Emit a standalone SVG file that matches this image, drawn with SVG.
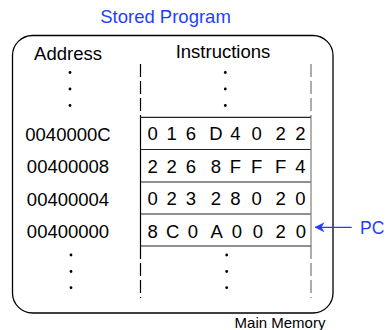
<svg xmlns="http://www.w3.org/2000/svg" width="387" height="330" viewBox="0 0 387 330">
<defs>
<style>
text{font-family:"Liberation Sans",Arial,sans-serif;fill:#000}
.t{font-size:18.5px}
.b{fill:#1f3fff}
.m{text-anchor:middle}
.dot{fill:#000}
.dl{stroke:#000;stroke-width:1.2;stroke-dasharray:13 4;fill:none}
.dr{stroke:#777;stroke-width:1.2;stroke-dasharray:13 4;fill:none}
.row{stroke:#222;stroke-width:1.2;fill:none}
</style>
<marker id="ah" viewBox="0 0 10 10" refX="9.5" refY="5" markerWidth="10" markerHeight="10" markerUnits="userSpaceOnUse" orient="auto">
<path d="M10,5 L0,0 L3,5 L0,10 Z" fill="#1f3fff"/>
</marker>
</defs>
<rect width="387" height="330" fill="#fff"/>
<text class="t b m" x="165.5" y="22.5">Stored Program</text>
<g id="memory">
<rect x="12.5" y="35.5" width="320.5" height="277.5" rx="20" ry="20" fill="none" stroke="#000" stroke-width="1.3"/>
<text x="280" y="328" class="m" style="font-size:15px">Main Memory</text>
</g>
<g id="headers">
<text class="t m" x="68" y="60">Address</text>
<text class="t m" x="223" y="58.3">Instructions</text>
</g>
<g id="dots">
<circle class="dot" cx="70" cy="72.5" r="1.4"/>
<circle class="dot" cx="70" cy="89" r="1.4"/>
<circle class="dot" cx="70" cy="105.5" r="1.4"/>
<circle class="dot" cx="225.3" cy="72.5" r="1.4"/>
<circle class="dot" cx="225.3" cy="89" r="1.4"/>
<circle class="dot" cx="225.3" cy="105.5" r="1.4"/>
<circle class="dot" cx="71" cy="255" r="1.4"/>
<circle class="dot" cx="71" cy="271.5" r="1.4"/>
<circle class="dot" cx="71" cy="287.7" r="1.4"/>
<circle class="dot" cx="226.7" cy="255" r="1.4"/>
<circle class="dot" cx="226.7" cy="271.5" r="1.4"/>
<circle class="dot" cx="226.7" cy="287.7" r="1.4"/>
</g>
<g id="dashes">
<line class="dl" x1="140.5" y1="64" x2="140.5" y2="117.3"/>
<line class="dr" x1="311" y1="64" x2="311" y2="117.3"/>
<line class="dl" x1="140.5" y1="246" x2="140.5" y2="298"/>
<line class="dr" x1="311" y1="246" x2="311" y2="298"/>
</g>
<g id="words">
<line class="row" x1="140.5" y1="117.3" x2="311" y2="117.3"/>
<line class="row" x1="140.5" y1="149.5" x2="311" y2="149.5"/>
<line class="row" x1="140.5" y1="182" x2="311" y2="182"/>
<line class="row" x1="140.5" y1="214" x2="311" y2="214"/>
<line class="row" x1="140.5" y1="246" x2="311" y2="246"/>
<line x1="140.5" y1="117.3" x2="140.5" y2="246" stroke="#000" stroke-width="1.2"/>
<line x1="311" y1="117.3" x2="311" y2="246" stroke="#888" stroke-width="1.3"/>
</g>
<g id="row-0040000C">
<text class="t m" x="68" y="141">0040000C</text>
<text class="t m" x="152.7 171.7 191 216 235.5 256.7 280.7 300.5" y="140">016D4022</text>
</g>
<g id="row-00400008">
<text class="t m" x="68" y="173.3">00400008</text>
<text class="t m" x="152.7 171.7 191 216 235.5 256.7 280.7 300.5" y="172.5">2268FFF4</text>
</g>
<g id="row-00400004">
<text class="t m" x="68" y="205.6">00400004</text>
<text class="t m" x="152.7 171.7 191 216 235.5 256.7 280.7 300.5" y="205">02328020</text>
</g>
<g id="row-00400000">
<text class="t m" x="68" y="238">00400000</text>
<text class="t m" x="152.7 172.7 193 216.7 237 258 280.7 301" y="237.5">8C0A0020</text>
</g>
<g id="connectors">
<line x1="351.7" y1="227.3" x2="315" y2="227.3" stroke="#1f3fff" stroke-width="1.3" marker-end="url(#ah)"/>
</g>
<g id="pc">
<text class="t b" x="360" y="233.5" style="font-size:17.5px">PC</text>
</g>
</svg>
